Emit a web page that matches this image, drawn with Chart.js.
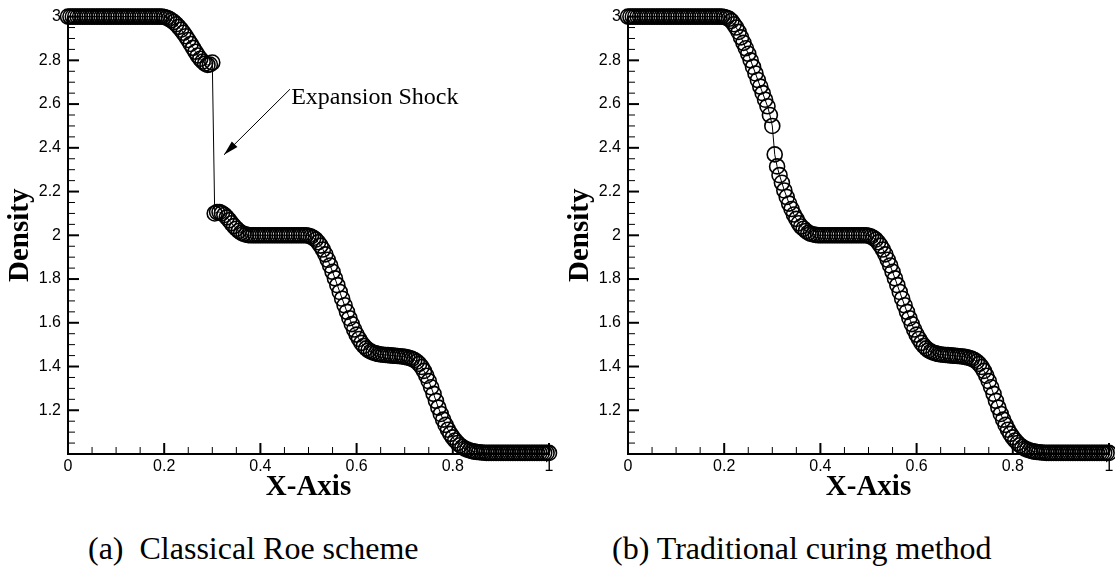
<!DOCTYPE html>
<html>
<head>
<meta charset="utf-8">
<script src="https://cdn.jsdelivr.net/npm/chart.js@4.4.1/dist/chart.umd.min.js"></script>
<style>
  html, body { margin: 0; padding: 0; background: #fff; overflow: hidden; }
  #wrap { position: relative; width: 1115px; height: 588px; }
  canvas { position: absolute; top: 0; }
  #roe { left: 0; }
  #cured { left: 560px; }
  .cap { position: absolute; top: 530px; font-family: "Liberation Serif", "Times New Roman", serif; font-size: 32px; white-space: pre; color: #000; }
</style>
</head>
<body>
<div id="wrap">
  <canvas id="roe" width="560" height="510"></canvas>
  <canvas id="cured" width="560" height="510"></canvas>
  <div class="cap" style="left:88px">(a)  Classical Roe scheme</div>
  <div class="cap" style="left:612px">(b) Traditional curing method</div>
</div>
<script>
// mesh: 201 nodes from 0 to 1
const xStep = 0.005

// density, classical Roe scheme (with the expansion shock near x = 0.3)
const roeDensity = [
  3, 3, 3, 3, 3, 3, 3, 3, 3, 3, 3, 3, 3, 3, 3, 3, 3, 3, 3, 3,
  3, 3, 3, 3, 3, 3, 3, 3, 3, 3, 3, 3, 3, 3, 3, 3, 3, 3, 3, 3,
  2.998, 2.995, 2.99, 2.983, 2.975, 2.965, 2.953, 2.94, 2.926, 2.91,
  2.893, 2.875, 2.857, 2.839, 2.822, 2.807, 2.795, 2.785, 2.779, 2.781, 2.79,
  2.1, 2.106, 2.106, 2.101, 2.093, 2.082, 2.069, 2.055, 2.042, 2.03,
  2.02, 2.012, 2.007, 2.003, 2.001,
  2, 2, 2, 2, 2, 2, 2, 2, 2, 2, 2, 2, 2, 2, 2, 2, 2, 2, 2, 2, 2, 2, 2, 2,
  1.998, 1.994, 1.988, 1.98, 1.968, 1.953, 1.935, 1.913, 1.888, 1.862,
  1.833, 1.803, 1.772, 1.741, 1.71, 1.68, 1.65, 1.621, 1.594, 1.569,
  1.546, 1.526, 1.508, 1.494, 1.483, 1.474, 1.468, 1.463, 1.46, 1.457, 1.455,
  1.454, 1.453, 1.452, 1.451, 1.45, 1.449, 1.448, 1.447, 1.446, 1.444, 1.442, 1.439, 1.435,
  1.43, 1.422, 1.412, 1.398, 1.38, 1.358, 1.333, 1.305, 1.275, 1.243,
  1.212, 1.183, 1.157, 1.133, 1.111, 1.092, 1.076, 1.062, 1.05, 1.04,
  1.032, 1.025, 1.02, 1.016, 1.013, 1.011, 1.009, 1.008, 1.007, 1.006,
  1.005, 1.005, 1.005, 1.005, 1.005, 1.005, 1.005, 1.005, 1.005, 1.005,
  1.005, 1.005, 1.005, 1.005, 1.005, 1.005, 1.005, 1.005, 1.005, 1.005,
  1.005, 1.005, 1.005, 1.005, 1.005, 1.005, 1.005
]

// density, traditional entropy-fix (curing) method
const curedDensity = [
  3, 3, 3, 3, 3, 3, 3, 3, 3, 3, 3, 3, 3, 3, 3, 3, 3, 3, 3, 3,
  3, 3, 3, 3, 3, 3, 3, 3, 3, 3, 3, 3, 3, 3, 3, 3, 3, 3, 3, 3,
  2.998, 2.995, 2.99, 2.98, 2.965, 2.95, 2.93, 2.905, 2.88, 2.855,
  2.83, 2.8, 2.77, 2.74, 2.71, 2.68, 2.65, 2.62, 2.59, 2.55, 2.5,
  2.37, 2.315, 2.275, 2.24, 2.205, 2.175, 2.145, 2.12, 2.095, 2.075,
  2.055, 2.04, 2.03, 2.02, 2.012,
  2.007, 2.004, 2.002, 2, 2, 2, 2, 2, 2, 2, 2, 2, 2, 2, 2, 2, 2, 2, 2, 2, 2, 2, 2, 2,
  1.998, 1.994, 1.988, 1.98, 1.968, 1.953, 1.935, 1.913, 1.888, 1.862,
  1.833, 1.803, 1.772, 1.741, 1.71, 1.68, 1.65, 1.621, 1.594, 1.569,
  1.546, 1.526, 1.508, 1.494, 1.483, 1.474, 1.468, 1.463, 1.46, 1.457, 1.455,
  1.454, 1.453, 1.452, 1.451, 1.45, 1.449, 1.448, 1.447, 1.446, 1.444, 1.442, 1.439, 1.435,
  1.43, 1.422, 1.412, 1.398, 1.38, 1.358, 1.333, 1.305, 1.275, 1.243,
  1.212, 1.183, 1.157, 1.133, 1.111, 1.092, 1.076, 1.062, 1.05, 1.04,
  1.032, 1.025, 1.02, 1.016, 1.013, 1.011, 1.009, 1.008, 1.007, 1.006,
  1.005, 1.005, 1.005, 1.005, 1.005, 1.005, 1.005, 1.005, 1.005, 1.005,
  1.005, 1.005, 1.005, 1.005, 1.005, 1.005, 1.005, 1.005, 1.005, 1.005,
  1.005, 1.005, 1.005, 1.005, 1.005, 1.005, 1.005
]

const xTicks = [0, 0.2, 0.4, 0.6, 0.8, 1]
const yTicks = [1.2, 1.4, 1.6, 1.8, 2, 2.2, 2.4, 2.6, 2.8, 3]

// "Expansion Shock" label and arrow, in data units
const noteText = 'Expansion Shock'
const noteTextAt = [0.464, 2.63]
const noteArrowFrom = [0.4615, 2.668]
const noteArrowTo = [0.3243, 2.368]

const sansFont = '"Liberation Sans", Arial, sans-serif'
const serifFont = '"Liberation Serif", "Times New Roman", serif'

// tecplot-style ticks pointing into the plot
const innerTicks = {
  id: 'innerTicks',
  beforeDatasetsDraw(chart) {
    const { ctx, chartArea: a, scales: { x, y } } = chart
    ctx.save()
    ctx.strokeStyle = '#000'
    const tick = (x1, y1, x2, y2, w) => {
      ctx.lineWidth = w
      ctx.beginPath()
      ctx.moveTo(x1, y1)
      ctx.lineTo(x2, y2)
      ctx.stroke()
    }
    for (let i = 0; i <= 20; i++) {
      const v = i * 0.05
      const px = x.getPixelForValue(v)
      const major = i % 4 === 0
      tick(px, a.bottom, px, a.bottom - (major ? 11 : 7), major ? 2 : 1)
    }
    for (let i = 0; i <= 40; i++) {
      const v = 1 + i * 0.05
      const py = y.getPixelForValue(v)
      const major = i % 4 === 0
      tick(a.left, py, a.left + (major ? 11 : 7), py, major ? 2 : 1)
    }
    ctx.restore()
  }
}

const shockNote = {
  id: 'shockNote',
  afterDatasetsDraw(chart) {
    const { ctx, scales: { x, y } } = chart
    const x0 = x.getPixelForValue(noteArrowFrom[0]), y0 = y.getPixelForValue(noteArrowFrom[1])
    const x1 = x.getPixelForValue(noteArrowTo[0]), y1 = y.getPixelForValue(noteArrowTo[1])
    ctx.save()
    ctx.strokeStyle = '#000'
    ctx.fillStyle = '#000'
    ctx.lineWidth = 1
    ctx.beginPath()
    ctx.moveTo(x0, y0)
    ctx.lineTo(x1, y1)
    ctx.stroke()
    const ang = Math.atan2(y1 - y0, x1 - x0)
    const len = 15, half = 4
    ctx.beginPath()
    ctx.moveTo(x1, y1)
    ctx.lineTo(x1 - len * Math.cos(ang) + half * Math.sin(ang), y1 - len * Math.sin(ang) - half * Math.cos(ang))
    ctx.lineTo(x1 - len * Math.cos(ang) - half * Math.sin(ang), y1 - len * Math.sin(ang) + half * Math.cos(ang))
    ctx.closePath()
    ctx.fill()
    ctx.font = '24px ' + serifFont
    ctx.textBaseline = 'middle'
    ctx.textAlign = 'left'
    ctx.fillText(noteText, x.getPixelForValue(noteTextAt[0]), y.getPixelForValue(noteTextAt[1]))
    ctx.restore()
  }
}

const buildChart = (id, density, extraPlugins) => {
  const points = density.map((d, i) => ({ x: i * xStep, y: d }))
  return new Chart(document.getElementById(id), {
    type: 'line',
    data: {
      datasets: [{
        data: points,
        borderColor: '#000',
        borderWidth: 1,
        pointStyle: 'circle',
        pointRadius: 7.5,
        pointBorderWidth: 1.6,
        pointBorderColor: '#000',
        pointBackgroundColor: 'rgba(0,0,0,0)',
        tension: 0,
        clip: false
      }]
    },
    options: {
      responsive: false,
      animation: false,
      devicePixelRatio: 1,
      events: [],
      layout: { padding: { top: 15, right: 11, left: 0, bottom: 0 } },
      plugins: { legend: { display: false }, tooltip: { enabled: false } },
      scales: {
        x: {
          type: 'linear',
          min: 0,
          max: 1,
          afterFit: s => { s.height = 56 },
          afterBuildTicks: s => { s.ticks = xTicks.map(v => ({ value: v })) },
          grid: { display: false, drawTicks: false },
          border: { display: true, color: '#000', width: 2 },
          ticks: {
            padding: 3,
            color: '#000',
            maxRotation: 0,
            font: { family: sansFont, size: 16 },
            callback: v => String(v)
          },
          title: {
            display: true,
            text: 'X-Axis',
            color: '#000',
            padding: { top: 0, bottom: 8 },
            font: { family: serifFont, size: 29, weight: 'bold', lineHeight: 1 }
          }
        },
        y: {
          type: 'linear',
          min: 1,
          max: 3,
          afterFit: s => { s.width = 68 },
          afterBuildTicks: s => { s.ticks = yTicks.map(v => ({ value: v })) },
          grid: { display: false, drawTicks: false },
          border: { display: true, color: '#000', width: 2 },
          ticks: {
            padding: 7,
            color: '#000',
            font: { family: sansFont, size: 16 },
            callback: v => String(v)
          },
          title: {
            display: true,
            text: 'Density',
            color: '#000',
            padding: { top: 6, bottom: 0 },
            font: { family: serifFont, size: 29, weight: 'bold', lineHeight: 1 }
          }
        }
      }
    },
    plugins: [innerTicks].concat(extraPlugins)
  })
}

buildChart('roe', roeDensity, [shockNote])
buildChart('cured', curedDensity, [])
</script>
</body>
</html>
